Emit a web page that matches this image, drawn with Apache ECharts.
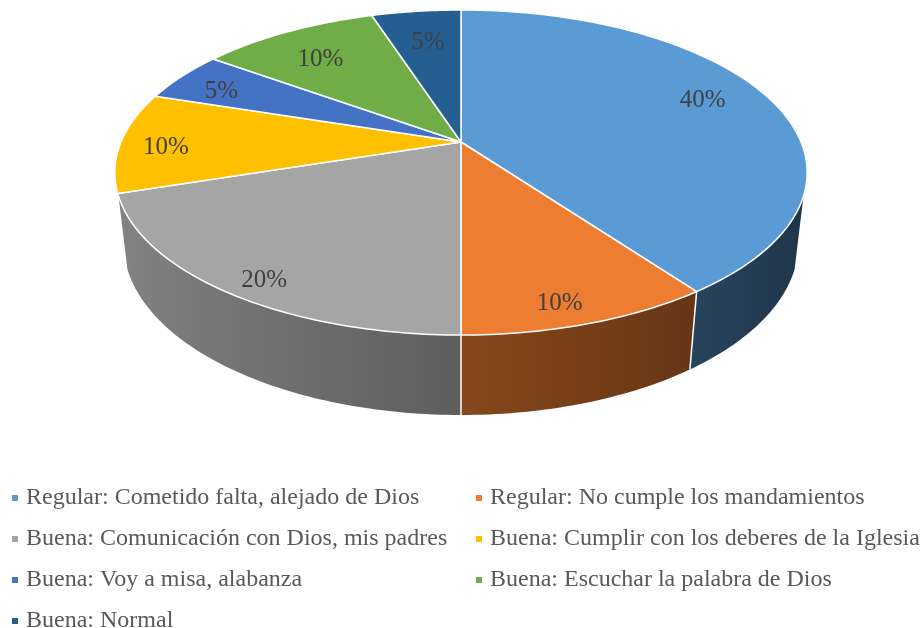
<!DOCTYPE html>
<html lang="es">
<head>
<meta charset="UTF-8">
<title>Pastel 3D</title>
<script src="https://cdn.jsdelivr.net/npm/echarts@6/dist/echarts.min.js"></script>
<style>html,body{margin:0;background:#fff}</style>
</head>
<body>
<div id="box" style="width:924px;height:628px"></div>
<script>
// datos
var categories = [
    'Regular: Cometido falta, alejado de Dios',
    'Regular: No cumple los mandamientos',
    'Buena: Comunicación con Dios, mis padres',
    'Buena: Cumplir con los deberes de la Iglesia',
    'Buena: Voy a misa, alabanza',
    'Buena: Escuchar la palabra de Dios',
    'Buena: Normal'
];
var counts = [8, 2, 4, 2, 1, 2, 1];
var colors = ['#5B9BD5', '#ED7D31', '#A5A5A5', '#FFC000', '#4472C4', '#70AD47', '#255E91'];
// posicion de etiquetas: radio relativo y altura (0 = cara superior, 1 = base)
var labelRadius = [0.78, 0.81, 0.86, 0.87, 0.85, 0.79, 0.70];
var labelHeight = [-0.08, 0.26, 0.17, 0.08, 0.09, 0.10, -0.06];

var total = counts.reduce(function (a, b) { return a + b; }, 0);
var starts = [0];
counts.forEach(function (v, i) { starts.push(starts[i] + v / total * Math.PI * 2); });

// proyeccion en perspectiva del disco
var CX = 461, CY = 142, KX = 340, KY = 156.8, KH = 71.8, U = 0.1877, V = 0.025;
var WALL = 0.33;
var FRONT0 = Math.PI / 2 + WALL, FRONT1 = Math.PI * 1.5 - WALL;
var DEG = Math.PI / 180;

function project(X, Z, h) {
    var w = 1 - U * Z + V * h;
    return [CX + KX * X / w, CY + (KY * Z + KH * h) / w];
}
function rim(t, h, r) {
    r = r == null ? 1 : r;
    return project(r * Math.sin(t), -r * Math.cos(t), h);
}
function shade(hex, f) {
    var n = parseInt(hex.slice(1), 16);
    var c = [(n >> 16) & 255, (n >> 8) & 255, n & 255].map(function (v) { return Math.round(v * f); });
    return 'rgb(' + c.join(',') + ')';
}
function wallFactor(t) {
    return 0.57 - 0.24 * Math.sin(t);
}

function renderSlice(params, api) {
    var i = api.value(0);
    var a0 = starts[i], a1 = starts[i + 1];
    var children = [];

    // cara superior
    var pts = [project(0, 0, 0)];
    var n = Math.max(2, Math.ceil((a1 - a0) / DEG));
    for (var k = 0; k <= n; k++) pts.push(rim(a0 + (a1 - a0) * k / n, 0));
    children.push({
        type: 'polygon', z2: 5, shape: { points: pts },
        style: { fill: colors[i], stroke: '#fff', lineWidth: 1.5, lineJoin: 'round' }
    });

    // pared lateral visible
    var s = Math.max(a0, FRONT0), e = Math.min(a1, FRONT1);
    if (e > s) {
        var top = [], bot = [], ts = [];
        var m = Math.max(2, Math.ceil((e - s) / DEG));
        for (var j = 0; j <= m; j++) {
            var t = s + (e - s) * j / m;
            ts.push(t);
            top.push(rim(t, 0));
            bot.push(rim(t, 1));
        }
        var poly = top.concat(bot.slice().reverse());
        var xs = poly.map(function (p) { return p[0]; });
        var xmin = Math.min.apply(null, xs), xmax = Math.max.apply(null, xs);
        var stops = top.map(function (p, j) {
            return { offset: (p[0] - xmin) / (xmax - xmin), color: shade(colors[i], wallFactor(ts[j])) };
        }).sort(function (a, b) { return a.offset - b.offset; });
        children.push({
            type: 'polygon', z2: 1, shape: { points: poly },
            style: { fill: new echarts.graphic.LinearGradient(0, 0, 1, 0, stops) }
        });
    }
    if (a0 > FRONT0 && a0 < FRONT1) {
        var p0 = rim(a0, 0), p1 = rim(a0, 1);
        children.push({
            type: 'line', z2: 2,
            shape: { x1: p0[0], y1: p0[1], x2: p1[0], y2: p1[1] },
            style: { stroke: '#fff', lineWidth: 1.5 }
        });
    }

    // etiqueta
    var mid = (a0 + a1) / 2;
    var lp = rim(mid, labelHeight[i], labelRadius[i]);
    children.push({
        type: 'text', z2: 10, x: lp[0], y: lp[1],
        style: {
            text: Math.round(counts[i] / total * 100) + '%',
            fill: '#404040', font: '25px "Liberation Serif"',
            align: 'center', verticalAlign: 'middle'
        }
    });

    return { type: 'group', children: children };
}

var legendBase = {
    orient: 'vertical', padding: 0, itemWidth: 6, itemHeight: 6, itemGap: 17,
    icon: 'rect', selectedMode: false,
    textStyle: { fontFamily: 'Liberation Serif', fontSize: 24, color: '#595959', padding: [0, 0, 0, 3] }
};
function pick(idx) {
    return idx.map(function (i) { return categories[i]; });
}

var myChart = echarts.init(document.getElementById('box'));
myChart.setOption({
    animation: false,
    legend: [
        Object.assign({}, legendBase, { left: 12, top: 486, data: pick([0, 2, 4]) }),
        Object.assign({}, legendBase, { left: 12, top: 609, data: pick([6]) }),
        Object.assign({}, legendBase, { left: 476, top: 486, data: pick([1, 3, 5]) })
    ],
    series: categories.map(function (name, i) {
        return {
            type: 'custom', name: name, coordinateSystem: 'none', silent: true,
            itemStyle: { color: colors[i] },
            renderItem: renderSlice,
            data: [[i]]
        };
    })
});
</script>
</body>
</html>
